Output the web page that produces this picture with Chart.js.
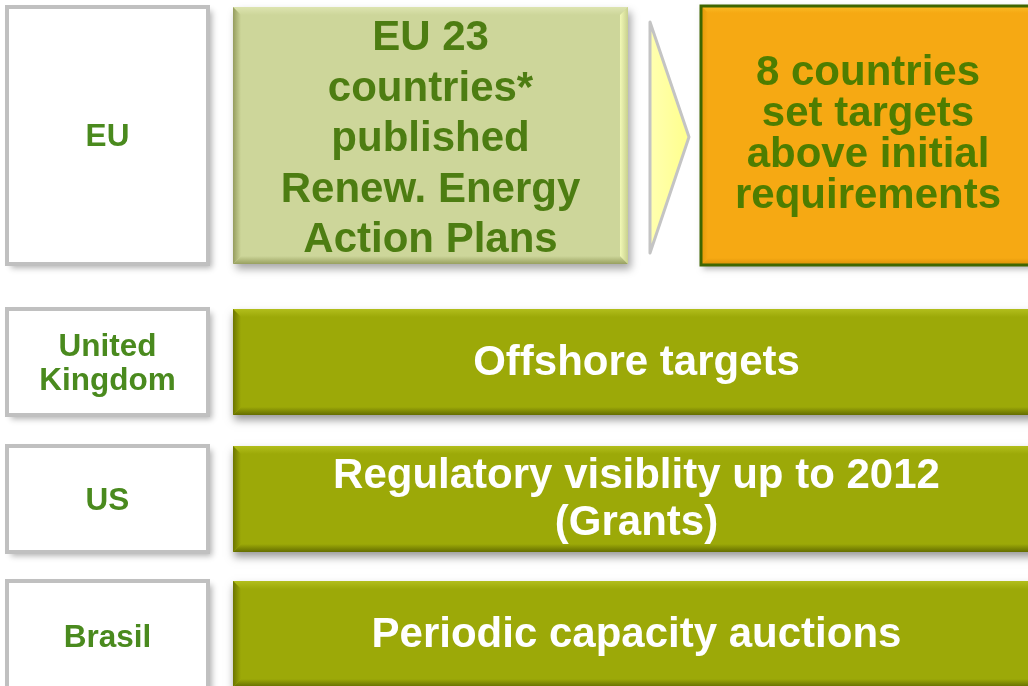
<!DOCTYPE html>
<html>
<head>
<meta charset="utf-8">
<script src="https://cdn.jsdelivr.net/npm/chart.js@4"></script>
<style>
  html, body { margin: 0; padding: 0; background: #ffffff; }
  #wrap { width: 1028px; height: 686px; }
</style>
</head>
<body>
<div id="wrap"><canvas id="c"></canvas></div>
<script>
// ==== TEXT DATA ====
const regionLabels = [["EU"], ["United", "Kingdom"], ["US"], ["Brasil"]];
const euPlanText = ["EU 23", "countries*", "published", "Renew. Energy", "Action Plans"];
const euResultText = ["8 countries", "set targets", "above initial", "requirements"];
const measureText = [
    ["Offshore targets"],
    ["Regulatory visiblity up to 2012", "(Grants)"],
    ["Periodic capacity auctions"],
];

// ==== LAYOUT (diagram units, same grid as the axes 0..1028 x 0..686) ====
const rowBands = [
    [7, 264],
    [309, 415],
    [446, 552],
    [581, 692],
];
const labelCol = [7, 208];
const barCol = [233, 1040];
const planCol = [233, 628];
const resultCol = [700, 1036];
const FONT = "'Liberation Sans', Arial, sans-serif";

// helpers
function px(chart, x) { return chart.scales.x.getPixelForValue(x); }
function py(chart, y) { return chart.scales.y.getPixelForValue(y); }

function withShadow(ctx, fn, blur, ox, oy, col) {
    ctx.save();
    ctx.shadowColor = col || "rgba(0,0,0,0.35)";
    ctx.shadowBlur = blur;
    ctx.shadowOffsetX = ox;
    ctx.shadowOffsetY = oy;
    fn();
    ctx.restore();
}

function drawLines(ctx, lines, cx, cy, lh, font, color) {
    ctx.save();
    ctx.font = font;
    ctx.fillStyle = color;
    ctx.textAlign = "center";
    ctx.textBaseline = "middle";
    const start = cy - ((lines.length - 1) * lh) / 2;
    lines.forEach((t, i) => ctx.fillText(t, cx, start + i * lh));
    ctx.restore();
}

// box with soft bevelled edges (each edge fades from its colour into the face)
function bevelBox(ctx, x0, y0, x1, y1, face, base, edges, b) {
    ctx.fillStyle = face;
    ctx.fillRect(x0, y0, x1 - x0, y1 - y0);
    const poly = (pts, g) => {
        ctx.beginPath();
        ctx.moveTo(pts[0][0], pts[0][1]);
        pts.slice(1).forEach((p) => ctx.lineTo(p[0], p[1]));
        ctx.closePath();
        ctx.fillStyle = g;
        ctx.fill();
    };
    const grad = (ax, ay, bx, by, col, end) => {
        const g = ctx.createLinearGradient(ax, ay, bx, by);
        g.addColorStop(0, col);
        g.addColorStop(1, end);
        return g;
    };
    poly([[x0, y0], [x1, y0], [x1 - b, y0 + b], [x0 + b, y0 + b]],
        grad(0, y0, 0, y0 + b, edges.top, base));
    poly([[x0, y1], [x1, y1], [x1 - b, y1 - b], [x0 + b, y1 - b]],
        grad(0, y1, 0, y1 - b, edges.bottom, base));
    poly([[x0, y0], [x0 + b, y0 + b], [x0 + b, y1 - b], [x0, y1]],
        grad(x0, 0, x0 + b, 0, edges.left, base));
    poly([[x1, y0], [x1 - b, y0 + b], [x1 - b, y1 - b], [x1, y1]],
        grad(x1, 0, x1 - b, 0, edges.right, edges.rightIn || base));
}

const diagramPlugin = {
    id: "diagram",
    afterDraw(chart) {
        const ctx = chart.ctx;

        // ---- left label boxes ----
        rowBands.forEach((band, i) => {
            const x0 = px(chart, labelCol[0]), x1 = px(chart, labelCol[1]);
            const y0 = py(chart, band[0]), y1 = py(chart, band[1]);
            withShadow(ctx, () => {
                ctx.fillStyle = "#ffffff";
                ctx.fillRect(x0, y0, x1 - x0, y1 - y0);
            }, 6, 4, 4, "rgba(0,0,0,0.30)");
            ctx.strokeStyle = "#c0c0c0";
            ctx.lineWidth = 4;
            ctx.strokeRect(x0, y0, x1 - x0, y1 - y0);
            drawLines(ctx, regionLabels[i], (x0 + x1) / 2, (y0 + y1) / 2 + 2, 34,
                "bold 31.5px " + FONT, "#4a8a1e");
        });

        // ---- EU: published plans box ----
        const eb = rowBands[0];
        {
            const x0 = px(chart, planCol[0]), x1 = px(chart, planCol[1]);
            const y0 = py(chart, eb[0]), y1 = py(chart, eb[1]);
            withShadow(ctx, () => {
                ctx.fillStyle = "#cdd699";
                ctx.fillRect(x0, y0, x1 - x0, y1 - y0);
            }, 8, 3, 5, "rgba(0,0,0,0.35)");
            bevelBox(ctx, x0, y0, x1, y1, "#cdd69a", "#cdd69a", {
                top: "#dde4b0", bottom: "#98a060", left: "#959c5e",
                right: "#c8d08e", rightIn: "#f2f9b6",
            }, 8);
            drawLines(ctx, euPlanText, (x0 + x1) / 2, (y0 + y1) / 2 + 4, 50.5,
                "bold 42px " + FONT, "#4d7d12");
        }

        // ---- arrow ----
        {
            ctx.save();
            ctx.beginPath();
            ctx.moveTo(px(chart, 650), py(chart, 22));
            ctx.lineTo(px(chart, 689), py(chart, 137));
            ctx.lineTo(px(chart, 650), py(chart, 253));
            ctx.closePath();
            const g = ctx.createLinearGradient(px(chart, 650), 0, px(chart, 689), 0);
            g.addColorStop(0, "#ffffb0");
            g.addColorStop(1, "#ffff8c");
            ctx.fillStyle = g;
            ctx.fill();
            ctx.strokeStyle = "#c4c4c4";
            ctx.lineWidth = 3;
            ctx.lineJoin = "round";
            ctx.stroke();
            ctx.restore();
        }

        // ---- EU: result box ----
        {
            const x0 = px(chart, resultCol[0]), x1 = px(chart, resultCol[1]);
            const y0 = py(chart, 5), y1 = py(chart, 266);
            withShadow(ctx, () => {
                ctx.fillStyle = "#f5a912";
                ctx.fillRect(x0, y0, x1 - x0, y1 - y0);
            }, 6, 3, 3, "rgba(0,0,0,0.3)");
            bevelBox(ctx, x0, y0, x1, y1, "#f6a913", "#f6a913", {
                top: "#fcc02a", bottom: "#d68c05", left: "#e0960a", right: "#f8b01a",
            }, 8);
            ctx.strokeStyle = "#3e6600";
            ctx.lineWidth = 3;
            ctx.strokeRect(x0 + 1, y0 + 1, x1 - x0 - 2, y1 - y0 - 2);
            drawLines(ctx, euResultText, (x0 + x1) / 2, (y0 + y1) / 2 - 1, 41,
                "bold 42px " + FONT, "#4e7d00");
        }

        // ---- measure bars ----
        measureText.forEach((lines, i) => {
            const band = rowBands[i + 1];
            const x0 = px(chart, barCol[0]), x1 = px(chart, barCol[1]);
            const y0 = py(chart, band[0]), y1 = py(chart, Math.min(band[1], band[0] + 106));
            withShadow(ctx, () => {
                ctx.fillStyle = "#9ca908";
                ctx.fillRect(x0, y0, x1 - x0, y1 - y0);
            }, 8, 1, 5, "rgba(0,0,0,0.4)");
            bevelBox(ctx, x0, y0, x1, y1, "#9ca908", "#9ca908", {
                top: "#b2be1c", bottom: "#646d00", left: "#6c7500", right: "#b8c424",
            }, 8);
            drawLines(ctx, lines, (x0 + x1) / 2, (y0 + y1) / 2 + 1, 47,
                "bold 42px " + FONT, "#ffffff");
        });
    },
};

const chart = new Chart(document.getElementById("c"), {
    type: "scatter",
    data: { datasets: [{ data: [], pointRadius: 0 }] },
    options: {
        responsive: true,
        maintainAspectRatio: false,
        animation: false,
        layout: { padding: 0 },
        plugins: { legend: { display: false }, tooltip: { enabled: false } },
        scales: {
            x: { type: "linear", min: 0, max: 1028, display: false },
            y: { type: "linear", min: 0, max: 686, reverse: true, display: false },
        },
    },
    plugins: [diagramPlugin],
});
</script>
</body>
</html>
